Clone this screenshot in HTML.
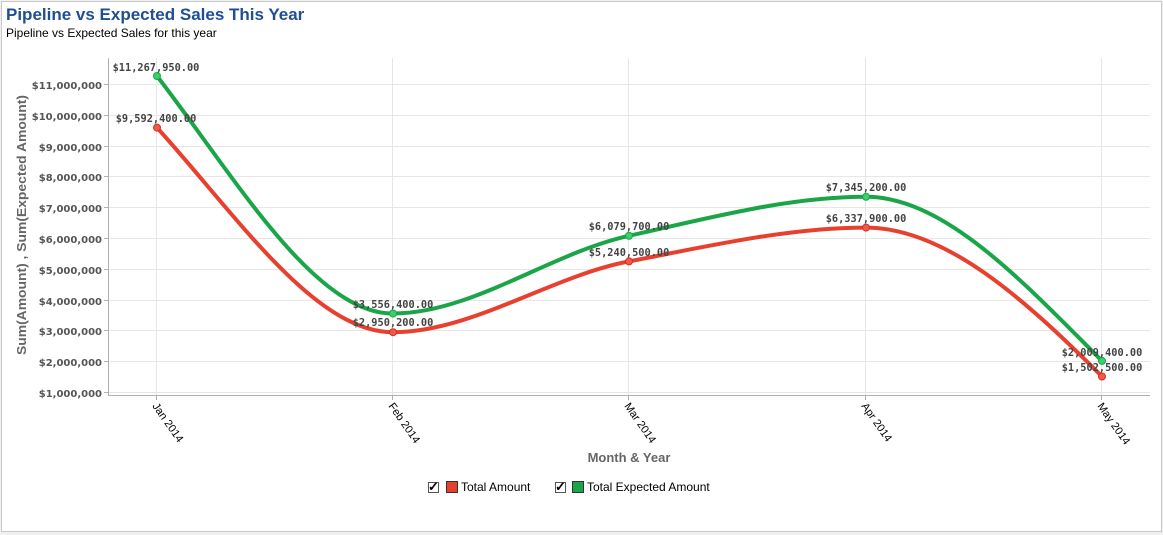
<!DOCTYPE html>
<html><head><meta charset="utf-8"><style>
body{margin:0;background:#f0f0f0;}
.wrap{position:absolute;left:0;top:0;width:1163px;height:535px;background:#f0f0f0;}
svg{position:absolute;left:0;top:0;}
</style></head><body><div class="wrap">
<svg width="1163" height="535" xmlns="http://www.w3.org/2000/svg" font-family="Liberation Sans, sans-serif">
<rect x="1.5" y="1.5" width="1160" height="530" fill="#fff" stroke="#c8c8c8"/>
<text x="6" y="20" font-size="17" font-weight="bold" fill="#1f4e96">Pipeline vs Expected Sales This Year</text>
<text x="6" y="37" font-size="12" fill="#000">Pipeline vs Expected Sales for this year</text>
<g stroke="#e6e6e6" stroke-width="1">
<line x1="108" x2="1150" y1="84.5" y2="84.5"/><line x1="108" x2="1150" y1="115.5" y2="115.5"/>
<line x1="108" x2="1150" y1="146.5" y2="146.5"/><line x1="108" x2="1150" y1="176.5" y2="176.5"/>
<line x1="108" x2="1150" y1="207.5" y2="207.5"/><line x1="108" x2="1150" y1="238.5" y2="238.5"/>
<line x1="108" x2="1150" y1="269.5" y2="269.5"/><line x1="108" x2="1150" y1="300.5" y2="300.5"/>
<line x1="108" x2="1150" y1="330.5" y2="330.5"/><line x1="108" x2="1150" y1="361.5" y2="361.5"/>
<line x1="108" x2="1150" y1="392.5" y2="392.5"/>
<line x1="156.5" x2="156.5" y1="58" y2="395"/><line x1="392.5" x2="392.5" y1="58" y2="395"/>
<line x1="628.5" x2="628.5" y1="58" y2="395"/><line x1="865.5" x2="865.5" y1="58" y2="395"/>
<line x1="1101.5" x2="1101.5" y1="58" y2="395"/>
</g>
<g stroke="#b0b0b0" stroke-width="1">
<line x1="108.5" x2="108.5" y1="58" y2="395"/><line x1="108" x2="1150" y1="395.5" y2="395.5"/>
<line x1="104" x2="108" y1="84.5" y2="84.5"/><line x1="104" x2="108" y1="115.5" y2="115.5"/><line x1="104" x2="108" y1="146.5" y2="146.5"/><line x1="104" x2="108" y1="176.5" y2="176.5"/><line x1="104" x2="108" y1="207.5" y2="207.5"/><line x1="104" x2="108" y1="238.5" y2="238.5"/><line x1="104" x2="108" y1="269.5" y2="269.5"/><line x1="104" x2="108" y1="300.5" y2="300.5"/><line x1="104" x2="108" y1="330.5" y2="330.5"/><line x1="104" x2="108" y1="361.5" y2="361.5"/><line x1="104" x2="108" y1="392.5" y2="392.5"/>
<line x1="156.5" x2="156.5" y1="395" y2="400"/><line x1="392.5" x2="392.5" y1="395" y2="400"/><line x1="628.5" x2="628.5" y1="395" y2="400"/><line x1="865.5" x2="865.5" y1="395" y2="400"/><line x1="1101.5" x2="1101.5" y1="395" y2="400"/>
</g>
<g font-family="DejaVu Sans, sans-serif" font-size="10" font-weight="bold" fill="#555" text-anchor="end">
<text x="102" y="89">$11,000,000</text><text x="102" y="120">$10,000,000</text><text x="102" y="151">$9,000,000</text><text x="102" y="181">$8,000,000</text><text x="102" y="212">$7,000,000</text><text x="102" y="243">$6,000,000</text><text x="102" y="274">$5,000,000</text><text x="102" y="305">$4,000,000</text><text x="102" y="335">$3,000,000</text><text x="102" y="366">$2,000,000</text><text x="102" y="397">$1,000,000</text>
</g>
<text transform="translate(26,225) rotate(-90)" text-anchor="middle" font-size="13" font-weight="bold" fill="#666" textLength="260" lengthAdjust="spacingAndGlyphs">Sum(Amount) , Sum(Expected Amount)</text>
<g font-size="11" fill="#000">
<text transform="translate(152,406) rotate(55)">Jan 2014</text>
<text transform="translate(388,406) rotate(55)">Feb 2014</text>
<text transform="translate(624,406) rotate(55)">Mar 2014</text>
<text transform="translate(861,406) rotate(55)">Apr 2014</text>
<text transform="translate(1097,406) rotate(55)">May 2014</text>
</g>
<text x="629" y="462" text-anchor="middle" font-size="13" font-weight="bold" fill="#666">Month &amp; Year</text>
<path d="M157,76 C235.7,178.3 314.3,313.5 393,313.5 C471.7,313.5 550.3,253.1 629,235.8 C707.7,218.5 787.3,196.8 866,196.8 C944.7,196.8 1023.3,282.2 1102,360.9" fill="none" stroke="#1aa548" stroke-width="4"/>
<path d="M157,127.6 C235.7,214.2 314.3,332.2 393,332.2 C471.7,332.2 550.3,276.4 629,261.4 C707.7,246.4 787.3,227.6 866,227.6 C944.7,227.6 1023.3,297.8 1102,376.5" fill="none" stroke="#e8402f" stroke-width="4"/>
<g fill="#3bd16a" stroke="#1aa548"><circle cx="157" cy="76" r="3.5"/><circle cx="393" cy="313.5" r="3.5"/><circle cx="629" cy="235.8" r="3.5"/><circle cx="866" cy="196.8" r="3.5"/><circle cx="1102" cy="360.9" r="3.5"/></g>
<g fill="#f05a4a" stroke="#d03020"><circle cx="157" cy="127.6" r="3.5"/><circle cx="393" cy="332.2" r="3.5"/><circle cx="629" cy="261.4" r="3.5"/><circle cx="866" cy="227.6" r="3.5"/><circle cx="1102" cy="376.5" r="3.5"/></g>
<g font-family="DejaVu Sans Mono, monospace" font-size="10.3" font-weight="bold" fill="#444" text-anchor="middle">
<text x="156" y="71">$11,267,950.00</text><text x="156" y="122">$9,592,400.00</text>
<text x="393" y="308">$3,556,400.00</text><text x="393" y="326">$2,950,200.00</text>
<text x="629" y="230">$6,079,700.00</text><text x="629" y="256">$5,240,500.00</text>
<text x="866" y="191">$7,345,200.00</text><text x="866" y="222">$6,337,900.00</text>
<text x="1102" y="356">$2,009,400.00</text><text x="1102" y="371">$1,502,500.00</text>
</g>
<g font-size="12" fill="#000">
<rect x="428.5" y="482.5" width="10" height="10" fill="#fff" stroke="#555"/><text x="428" y="491" font-size="13" font-weight="bold">✓</text>
<rect x="446.5" y="481.5" width="11" height="11" fill="#e8402f" stroke="#333"/>
<text x="461" y="491">Total Amount</text>
<rect x="555.5" y="482.5" width="10" height="10" fill="#fff" stroke="#555"/><text x="555" y="491" font-size="13" font-weight="bold">✓</text>
<rect x="572.5" y="481.5" width="11" height="11" fill="#1aa548" stroke="#333"/>
<text x="587" y="491">Total Expected Amount</text>
</g>
</svg></div></body></html>
